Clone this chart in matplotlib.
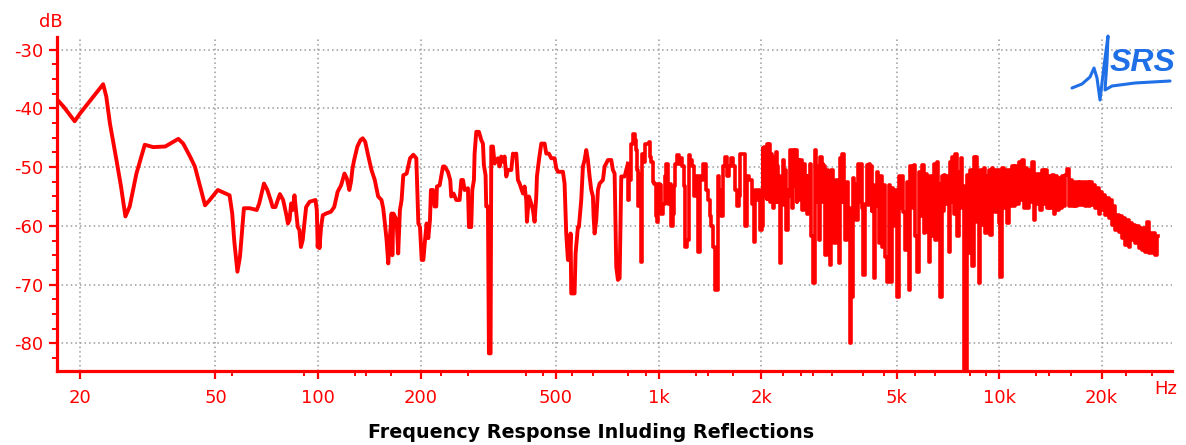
import matplotlib
matplotlib.use("Agg")
import matplotlib.pyplot as plt
from matplotlib.lines import Line2D
from matplotlib.ticker import FixedLocator, NullFormatter

# measured response, (Hz, dB) per band
low_band = [
    (17.2, -38.6), (17.9, -39.7), (19.3, -42.2), (20.0, -40.9), (21.9, -38.0), (23.4, -35.9),
    (23.9, -38.0), (24.5, -42.6), (25.6, -48.8), (26.4, -53.3), (27.2, -58.4), (28.0, -56.7),
    (29.3, -51.1), (31.0, -46.2), (32.8, -46.6), (35.6, -46.5), (38.9, -45.2), (40.2, -46.0),
    (42.1, -48.2), (43.5, -49.9), (46.6, -56.5), (48.1, -55.6), (50.8, -53.9), (55.0, -54.8),
    (56.0, -57.9), (56.8, -62.7), (58.0, -67.8), (59.0, -65.3), (60.6, -57.0),
]

bass_band = [
    (63.0, -57.0), (66.1, -57.3), (67.2, -56.2), (69.4, -52.8), (71.0, -53.9), (72.6, -55.6),
    (73.6, -56.8), (75.0, -56.8), (76.5, -55.3), (77.3, -54.6), (79.0, -55.6), (80.8, -58.2),
    (81.6, -59.6), (82.5, -59.0), (83.4, -56.2), (84.3, -57.3), (85.3, -54.8), (86.2, -57.3),
    (87.2, -60.2), (88.2, -60.7), (89.1, -63.6), (90.2, -62.4), (91.2, -59.6), (92.3, -56.8),
    (94.5, -55.9), (98.3, -55.6), (99.2, -57.3), (99.8, -63.6), (100.5, -60.2), (101.0, -63.8),
    (102.1, -60.2), (103.3, -58.2), (105.6, -57.9), (109.1, -57.6), (111.6, -56.8), (114.2, -54.2),
    (116.9, -53.1), (119.6, -51.1), (121.5, -51.9), (123.6, -53.9), (125.0, -52.5), (126.3, -50.2),
    (127.7, -48.8), (130.5, -46.5), (133.3, -45.4), (135.3, -45.1), (137.6, -45.7), (140.6, -48.2),
    (143.6, -50.5), (146.8, -52.2), (150.2, -55.0), (153.6, -55.6), (155.4, -57.0), (157.2, -59.6),
    (159.0, -62.4), (160.8, -66.4), (162.6, -61.9), (164.5, -57.9), (165.3, -65.0), (166.5, -57.9),
    (170.1, -59.0), (172.0, -64.7), (174.0, -57.3), (176.0, -55.6), (178.0, -51.4), (182.1, -51.1),
    (186.3, -48.5), (190.5, -47.9), (194.4, -48.5), (197.1, -59.6), (199.3, -60.2), (201.6, -65.8),
    (203.9, -65.8), (206.2, -62.4), (208.4, -59.6), (210.8, -62.1), (213.2, -59.0), (214.6, -53.9),
]

mid_band = [
    (217.6, -53.9), (220.0, -56.7), (222.5, -56.7), (223.5, -53.3), (227.6, -53.1), (230.1, -51.6),
    (232.8, -49.9), (235.4, -49.9), (240.7, -50.8), (244.5, -52.2), (246.2, -55.0), (250.1, -54.5),
    (254.7, -55.6), (260.5, -55.6), (263.5, -52.2), (266.5, -52.2), (269.5, -53.9), (275.6, -53.6),
    (277.5, -60.2), (281.8, -60.2), (283.8, -53.9), (287.0, -52.2), (288.3, -47.7), (291.6, -44.0),
    (296.9, -44.0), (301.6, -45.4), (305.0, -46.0), (307.0, -49.7), (310.5, -51.4), (311.9, -56.7),
    (315.5, -56.7), (317.6, -81.7), (321.2, -81.7), (322.7, -46.5), (326.3, -46.5), (330.0, -49.4),
    (337.5, -48.5), (341.4, -49.9), (345.2, -48.2), (349.1, -49.1), (353.1, -48.2), (357.1, -51.6),
    (361.2, -50.5), (369.4, -50.5), (373.6, -47.7), (377.8, -47.9), (382.1, -47.7), (386.4, -52.2),
    (390.8, -52.8), (399.7, -54.5), (404.2, -53.3), (408.8, -55.6), (410.7, -59.3), (416.2, -55.0),
    (422.8, -56.2), (427.6, -57.3), (432.5, -59.3), (437.4, -55.0), (439.4, -51.6), (445.4, -48.8),
    (452.5, -46.0), (462.8, -46.0), (468.0, -47.7), (476.4, -47.7), (484.1, -48.5), (495.1, -48.5),
    (500.7, -50.2), (506.4, -50.8), (523.8, -50.8), (529.7, -52.8), (535.7, -61.3), (541.8, -65.8),
    (547.9, -65.8), (551.7, -61.3), (554.1, -71.5), (566.7, -71.5), (570.6, -64.7), (579.7, -60.2),
    (583.6, -60.2), (592.9, -55.6), (599.6, -49.9), (606.4, -48.8), (613.3, -47.1), (620.2, -48.8),
    (627.3, -51.6), (634.4, -53.9), (641.6, -55.0), (644.5, -58.4), (648.9, -61.3), (656.2, -59.0),
    (663.7, -53.9), (671.2, -52.8), (686.5, -52.2), (694.3, -49.9), (710.2, -48.8), (726.3, -48.8),
    (734.5, -50.5), (742.9, -51.1), (751.3, -67.0), (759.8, -69.2), (768.5, -68.9), (777.2, -51.6),
    (794.9, -51.6), (812.8, -49.4),
]

upper_band = [
    (816, -55.6), (822, -52.2), (837, -46.0), (845, -44.3), (856, -45.4), (864, -47.1),
    (870, -50.5), (876, -56.7), (884, -51.1), (889, -66.1), (900, -47.7), (910, -49.1),
    (920, -46.0), (930, -46.0), (941, -45.7), (945, -48.2), (958, -49.1), (963, -52.5),
    (980, -52.8), (984, -58.4), (996, -59.3), (1002, -52.8), (1011, -53.1), (1025, -57.9),
    (1034, -56.2), (1049, -51.6), (1058, -49.4), (1072, -56.2), (1082, -52.8), (1097, -60.1),
    (1107, -57.9), (1114, -53.3), (1127, -49.4), (1140, -47.9), (1152, -49.4), (1165, -48.5),
    (1179, -49.9), (1192, -53.3), (1206, -63.6), (1219, -62.4), (1233, -47.9), (1247, -48.8),
    (1261, -49.9), (1276, -55.0), (1296, -51.6), (1313, -64.4), (1325, -51.6), (1343, -52.2),
    (1365, -49.4), (1387, -53.9), (1405, -55.6), (1418, -58.4), (1437, -60.1), (1454, -63.6),
    (1467, -70.9), (1487, -70.9), (1500, -51.6), (1517, -53.9), (1538, -58.4), (1562, -49.9),
    (1580, -48.2), (1598, -51.6), (1616, -49.9), (1645, -48.5), (1671, -49.9), (1690, -53.9),
    (1709, -56.7), (1729, -55.0), (1748, -47.7), (1776, -47.7), (1800, -60.1), (1829, -51.6),
    (1850, -52.2), (1871, -52.2), (1892, -56.2), (1914, -62.7), (1935, -53.9), (1957, -55.6),
    (1979, -53.9), (2002, -60.7), (2015, -60.1), (2025, -46.8), (2036, -55.0), (2048, -46.5),
    (2060, -53.5), (2071, -47.7), (2083, -55.5), (2094, -46.0), (2106, -52.0), (2118, -46.0),
    (2130, -56.0), (2142, -47.7), (2154, -55.0), (2166, -51.1), (2178, -57.0), (2191, -48.2),
    (2203, -54.5), (2215, -47.4), (2228, -56.0), (2240, -49.9), (2253, -55.0), (2266, -51.6),
    (2281, -66.4), (2307, -54.5), (2328, -48.8), (2344, -56.5), (2360, -50.5), (2381, -60.7),
    (2413, -53.9), (2435, -47.1), (2446, -55.0), (2457, -50.0), (2468, -57.0), (2479, -47.1),
    (2507, -53.3), (2536, -47.1), (2550, -56.0), (2564, -48.8), (2594, -55.6), (2623, -48.8),
    (2653, -57.3), (2683, -49.4), (2714, -54.5), (2730, -58.0), (2745, -51.6), (2766, -57.0),
    (2788, -49.4), (2826, -61.8), (2852, -69.8), (2891, -47.1), (2917, -53.3), (2937, -56.0),
    (2957, -49.9),
]

treble_band = [
    (2970, -62.4), (3004, -48.2), (3021, -56.0), (3038, -49.4), (3055, -55.0), (3072, -49.9),
    (3107, -65.0), (3142, -50.5), (3167, -55.5), (3192, -66.7), (3236, -50.5), (3261, -56.0),
    (3287, -63.0), (3339, -52.2), (3370, -56.5), (3400, -66.4), (3438, -48.5), (3457, -56.0),
    (3477, -47.7), (3517, -55.0), (3540, -62.4), (3597, -52.5), (3625, -57.0), (3654, -80.0),
    (3704, -72.1), (3737, -51.9), (3762, -57.5), (3788, -52.8), (3831, -59.0), (3874, -49.4),
    (3895, -56.0), (3915, -52.0), (3936, -49.4), (3968, -57.0), (3999, -68.4), (4053, -56.2),
    (4118, -49.6), (4141, -56.5), (4164, -49.4), (4187, -55.0), (4211, -49.9), (4235, -57.5),
    (4259, -53.1), (4307, -68.9), (4355, -56.7), (4405, -50.8), (4430, -56.0), (4455, -63.0),
    (4505, -51.6), (4530, -57.5), (4556, -63.6), (4608, -53.1), (4660, -65.3), (4713, -69.5),
    (4767, -53.1), (4794, -58.0), (4821, -69.5), (4875, -53.6), (4905, -60.0), (4935, -56.0),
    (4964, -53.9), (5043, -72.1), (5100, -51.6), (5130, -57.0), (5162, -53.0), (5193, -51.6),
    (5276, -57.6), (5336, -64.1), (5395, -52.5), (5426, -57.5), (5457, -70.9), (5518, -49.9),
    (5550, -56.5), (5581, -51.1), (5612, -57.0), (5644, -49.6), (5708, -61.8), (5772, -67.8),
    (5838, -50.8), (5904, -58.4), (5971, -49.6), (6039, -61.3), (6107, -51.1), (6176, -61.0),
    (6246, -66.1), (6317, -51.6), (6389, -61.8), (6461, -49.4), (6534, -62.4), (6608, -49.1),
    (6645, -56.5), (6683, -52.8), (6759, -72.1), (6836, -51.6), (6874, -57.5), (6913, -51.3),
    (6991, -56.2), (7071, -51.6), (7151, -64.4), (7232, -49.1), (7272, -56.0), (7313, -48.2),
    (7396, -57.9), (7480, -47.7), (7565, -61.8), (7650, -50.8), (7693, -57.0), (7737, -48.5),
    (7781, -56.5), (7825, -53.3), (7913, -85.0), (8003, -85.0), (8094, -51.3), (8186, -64.7),
    (8279, -50.5), (8372, -66.9), (8467, -48.2), (8515, -56.0), (8563, -48.2), (8660, -59.3),
    (8758, -69.8), (8857, -50.5), (8958, -59.9), (9059, -50.2), (9162, -61.3), (9265, -51.6),
    (9317, -57.0), (9370, -50.5), (9477, -61.6), (9584, -50.2), (9638, -56.5), (9693, -50.5),
    (9802, -57.6), (9915, -50.5), (10026, -59.6), (10139, -68.7), (10254, -50.2), (10370, -57.0),
    (10488, -50.5),
]

air_band = [
    (10610, -59.6), (10730, -50.5), (10852, -56.7), (10975, -49.9), (11099, -56.7), (11225, -49.9),
    (11350, -56.2), (11480, -49.1), (11610, -55.6), (11740, -48.8), (11870, -57.0), (12010, -50.2),
    (12140, -57.0), (12280, -50.5), (12420, -55.9), (12560, -49.1), (12710, -59.0), (12850, -51.1),
    (13000, -56.2), (13140, -51.1), (13290, -57.3), (13440, -50.5), (13600, -56.2), (13750, -50.5),
    (13910, -57.0), (14060, -51.6), (14220, -57.0), (14380, -51.4), (14550, -57.9), (14710, -51.6),
    (14880, -57.3), (15050, -51.9), (15220, -57.0), (15390, -51.6), (15560, -56.7), (15740, -51.4),
    (15920, -50.4), (16100, -56.7), (16280, -52.2), (16460, -56.7), (16650, -52.5), (16840, -56.7),
    (17030, -52.5), (17220, -56.5), (17420, -52.5), (17620, -56.5), (17820, -52.5), (18020, -56.7),
    (18220, -52.5), (18420, -56.7), (18630, -52.5), (18850, -56.5), (19060, -53.1), (19280, -57.0),
    (19500, -53.6), (19720, -57.9), (19940, -54.2), (20160, -57.3), (20390, -54.8), (20620, -58.2),
    (20860, -55.3), (21090, -58.7), (21330, -55.6), (21580, -59.9), (21820, -56.7), (22070, -60.7),
    (22320, -58.2), (22570, -61.0), (22830, -58.4), (23090, -62.1), (23350, -58.7), (23620, -63.3),
    (23880, -59.0), (24150, -63.6), (24430, -59.6), (24700, -62.4), (24980, -59.9), (25270, -63.0),
    (25550, -60.1), (25840, -63.8), (26140, -60.4), (26420, -64.1), (26730, -60.4), (27030, -64.4),
    (27460, -59.3), (27650, -64.7), (27960, -61.3), (28280, -64.7), (28600, -61.3), (28920, -65.0),
    (29250, -61.8),
]

x_major = [20, 50, 100, 200, 500, 1000, 2000, 5000, 10000, 20000]
x_labels = ["20", "50", "100", "200", "500", "1k", "2k", "5k", "10k", "20k"]
x_minor = [55.8, 91.2, 128, 138, 164, 230, 276, 409, 458, 558, 641, 812, 916, 1290, 1396,
           1652, 2320, 2620, 2840, 3237, 3977, 4584, 5644, 6461, 8232, 9162, 12800, 14000,
           16300, 23500, 28100]
y_major = [-30, -40, -50, -60, -70, -80]

RED = "#ff0000"

# low end drawn as a plain trace, the dense FFT bins above ~800 Hz as steps
sparse = low_band + bass_band + mid_band
dense = mid_band[-1:] + upper_band + treble_band + air_band

fig = plt.figure(figsize=(11.86, 4.45), dpi=100)
ax = fig.add_axes([0.0483, 0.1663, 0.9396, 0.7506])

ax.plot([p[0] for p in sparse], [p[1] for p in sparse], color=RED, linewidth=2.8, zorder=3)
ax.plot([p[0] for p in dense], [p[1] for p in dense], color=RED, linewidth=2.6,
        drawstyle="steps-mid", zorder=3)

ax.set_xscale("log")
ax.set_xlim(17.16, 32100)
ax.set_ylim(-84.7, -27.86)

ax.xaxis.set_major_locator(FixedLocator(x_major))
ax.set_xticklabels(x_labels)
ax.xaxis.set_minor_locator(FixedLocator(x_minor))
ax.xaxis.set_minor_formatter(NullFormatter())
ax.set_yticks(y_major)
ax.set_yticklabels([str(v) for v in y_major])
ax.yaxis.set_minor_locator(FixedLocator([v - 2.5 * k for v in y_major for k in (1, 2, 3)]))

ax.grid(True, which="major", color="#9a9a9a", linestyle=(0, (1, 2)), linewidth=1.1, zorder=0)

for side in ("top", "right"):
    ax.spines[side].set_visible(False)
for side in ("left", "bottom"):
    ax.spines[side].set_color(RED)
    ax.spines[side].set_linewidth(2.3)

ax.tick_params(axis="both", which="major", colors=RED, width=1.6, length=6, labelsize=13)
ax.tick_params(axis="both", which="minor", colors=RED, width=1.4, length=3.5)
ax.tick_params(axis="x", which="major", pad=7)
ax.tick_params(axis="y", which="major", pad=4)

# axis unit captions
fig.text(51 / 1186, 1 - 22 / 445, "dB", color=RED, fontsize=13, ha="center", va="center")
fig.text(1166 / 1186, 1 - 389 / 445, "Hz", color=RED, fontsize=13, ha="center", va="center")

fig.text(591 / 1186, 1 - 433 / 445, "Frequency Response Inluding Reflections",
         fontsize=13.8, fontweight="bold", family="DejaVu Sans", ha="center", va="center")

# SRS logo
logo_blue = "#1f6fe6"
fig.text(1143 / 1186, 1 - 63 / 445, "SRS", color=logo_blue, fontsize=23, fontweight="bold",
         fontstyle="italic", family="Liberation Sans", ha="center", va="center")
wave_x = [1072, 1082, 1090, 1094, 1097, 1100, 1104, 1108, 1107, 1105, 1112, 1135, 1170]
wave_y = [88, 84, 77, 68, 78, 100, 66, 36, 62, 90, 86, 83, 81]
fig.add_artist(Line2D([x / 1186 for x in wave_x], [1 - y / 445 for y in wave_y],
                      color=logo_blue, linewidth=2.2, transform=fig.transFigure,
                      solid_capstyle="round", solid_joinstyle="round"))

fig.savefig("out.png", dpi=100)
